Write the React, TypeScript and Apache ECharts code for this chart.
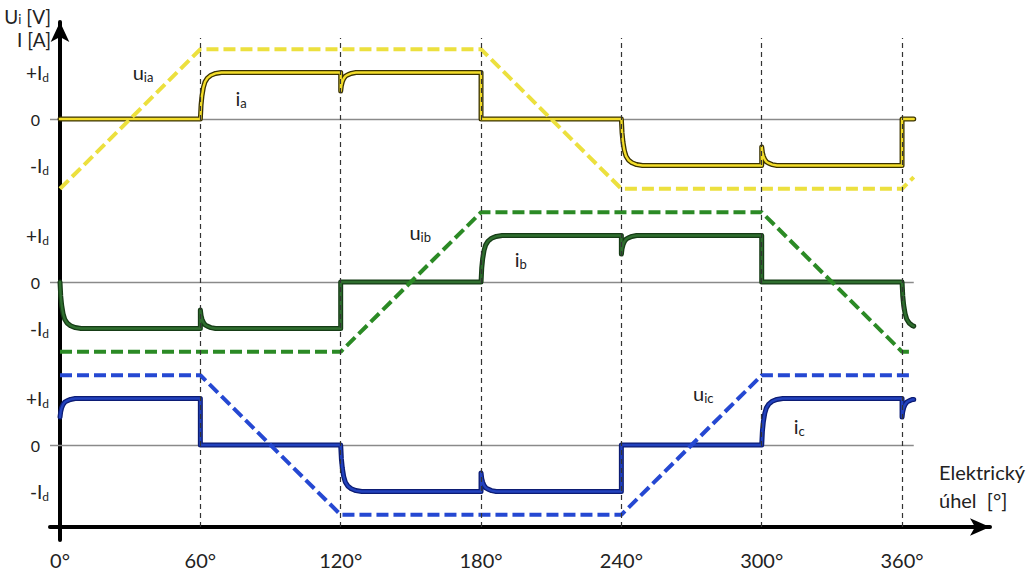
import { useEffect, useRef } from 'react';
import * as echarts from 'echarts';

// ---------- data (degrees, multiples of I_d) ----------
const angleTicks = [0, 60, 120, 180, 240, 300, 360];
const gridAngles = [60, 120, 180, 240, 300, 360];
const levelTicks = [-1, 1];
const zeroTicks = [0];

const uA = [[0, -1.5], [60, 1.5], [180, 1.5], [240, -1.5], [360, -1.5], [365, -1.25]];
const uB = [[0, -1.5], [120, -1.5], [180, 1.5], [300, 1.5], [360, -1.5], [365, -1.5]];
const uC = [[0, 1.5], [60, 1.5], [120, -1.5], [240, -1.5], [300, 1.5], [365, 1.5]];

const iA = [
  [0, 0], [60, 0],
  [60.3, 0.3], [60.7, 0.5], [61.3, 0.68], [62, 0.8], [63, 0.88], [64.5, 0.94], [66.5, 0.98], [69, 1],
  [120, 1], [120, 0.6], [120.3, 0.72], [120.7, 0.8], [121.3, 0.87], [122, 0.92], [123, 0.95], [124.5, 0.98], [126.5, 1],
  [180, 1], [180, 0], [240, 0],
  [240.3, -0.3], [240.7, -0.5], [241.3, -0.68], [242, -0.8], [243, -0.88], [244.5, -0.94], [246.5, -0.98], [249, -1],
  [300, -1], [300, -0.6], [300.3, -0.72], [300.7, -0.8], [301.3, -0.87], [302, -0.92], [303, -0.95], [304.5, -0.98], [306.5, -1],
  [360, -1], [360, 0], [365, 0],
];

const iB = [
  [0, 0], [0.3, -0.3], [0.7, -0.5], [1.3, -0.68], [2, -0.8], [3, -0.88], [4.5, -0.94], [6.5, -0.98], [9, -1],
  [60, -1], [60, -0.6], [60.3, -0.72], [60.7, -0.8], [61.3, -0.87], [62, -0.92], [63, -0.95], [64.5, -0.98], [66.5, -1],
  [120, -1], [120, 0], [180, 0],
  [180.3, 0.3], [180.7, 0.5], [181.3, 0.68], [182, 0.8], [183, 0.88], [184.5, 0.94], [186.5, 0.98], [189, 1],
  [240, 1], [240, 0.6], [240.3, 0.72], [240.7, 0.8], [241.3, 0.87], [242, 0.92], [243, 0.95], [244.5, 0.98], [246.5, 1],
  [300, 1], [300, 0], [360, 0],
  [360.3, -0.3], [360.7, -0.5], [361.3, -0.68], [362, -0.8], [363, -0.88], [364.5, -0.94], [365, -0.95],
];

const iC = [
  [0, 0.6], [0.3, 0.72], [0.7, 0.8], [1.3, 0.87], [2, 0.92], [3, 0.95], [4.5, 0.98], [6.5, 1],
  [60, 1], [60, 0], [120, 0],
  [120.3, -0.3], [120.7, -0.5], [121.3, -0.68], [122, -0.8], [123, -0.88], [124.5, -0.94], [126.5, -0.98], [129, -1],
  [180, -1], [180, -0.6], [180.3, -0.72], [180.7, -0.8], [181.3, -0.87], [182, -0.92], [183, -0.95], [184.5, -0.98], [186.5, -1],
  [240, -1], [240, 0], [300, 0],
  [300.3, 0.3], [300.7, 0.5], [301.3, 0.68], [302, 0.8], [303, 0.88], [304.5, 0.94], [306.5, 0.98], [309, 1],
  [360, 1], [360, 0.6], [360.3, 0.72], [360.7, 0.8], [361.3, 0.87], [362, 0.92], [363, 0.95], [364.5, 0.98], [365, 0.98],
];

// annotation labels: [angle, level]
const labelUA = [35.5, 1.01];
const labelIA = [77.4, 0.45];
const labelUB = [154, 1.08];
const labelIB = [197, 0.5];
const labelUC = [275, 1.12];
const labelIC = [316, 0.4];

// ---------- layout / style ----------
const FONT = 'Lato, "Open Sans", sans-serif';
const X_MIN = -4.28;
const X_MAX = 397.6;
const Y_MIN = -1.763;
const Y_MAX = 1.742;
const PANEL_TOPS = [38, 201, 364];
const PANEL_H = 163;

const panels = [
  { u: uA, i: iA, uLab: labelUA, iLab: labelIA, uTxt: '{m|u}{s|ia}', iTxt: '{m|i}{s|a}', outline: '#3a3200', inner: '#f3dd2a', dash: '#ece03e' },
  { u: uB, i: iB, uLab: labelUB, iLab: labelIB, uTxt: '{m|u}{s|ib}', iTxt: '{m|i}{s|b}', outline: '#163c16', inner: '#2f6e2f', dash: '#2b8a25' },
  { u: uC, i: iC, uLab: labelUC, iLab: labelIC, uTxt: '{m|u}{s|ic}', iTxt: '{m|i}{s|c}', outline: '#0c1c74', inner: '#2242bd', dash: '#2548d2' },
];

const annRich = {
  m: { fontSize: 20, fontFamily: FONT, color: '#222' },
  s: { fontSize: 13, fontFamily: FONT, color: '#222', padding: [10, 0, 0, 0] },
};

export default function App() {
  const ref = useRef<HTMLDivElement>(null);

  useEffect(() => {
    if (!ref.current) return;
    const chart = echarts.init(ref.current, undefined, { renderer: 'svg' });

    const grids: any[] = PANEL_TOPS.map((t) => ({ left: 50, right: 44, top: t, height: PANEL_H }));
    grids.push({ left: 60, right: 44, top: 22, bottom: 32 });

    const xAxes: any[] = panels.map((_, k) => ({
      type: 'value',
      gridIndex: k,
      min: X_MIN,
      max: X_MAX,
      show: k === 2,
      axisLine: {
        show: true,
        onZero: false,
        symbol: ['none', 'arrow'],
        symbolSize: [13, 20],
        lineStyle: { color: '#000', width: 4 },
      },
      axisTick: { show: false },
      splitLine: { show: false },
      axisLabel: {
        show: k === 2,
        customValues: angleTicks,
        formatter: (v: number) => `${v}°`,
        fontSize: 20,
        fontFamily: FONT,
        color: '#222',
        margin: 23,
      },
    }));
    xAxes.push({ type: 'value', gridIndex: 3, min: 0, max: 1, show: false, axisLine: { onZero: false } });

    const yAxes: any[] = panels.map((_, k) => ({
      type: 'value',
      gridIndex: k,
      position: 'left',
      min: Y_MIN,
      max: Y_MAX,
      axisLine: { show: false, onZero: false },
      axisTick: { show: false },
      splitLine: { show: false },
      axisLabel: {
        customValues: levelTicks,
        margin: 1,
        formatter: (v: number) => (v > 0 ? '{p|+I}{s|d}' : '{p|-I}{s|d}'),
        rich: {
          p: { fontSize: 19, fontFamily: FONT, color: '#222' },
          s: { fontSize: 12, fontFamily: FONT, color: '#222', padding: [9, 0, 0, 0] },
        },
      },
    }));
    yAxes.push({
      type: 'value',
      gridIndex: 3,
      min: 0,
      max: 1,
      axisLine: {
        show: true,
        onZero: false,
        symbol: ['none', 'arrow'],
        symbolSize: [14, 20],
        lineStyle: { color: '#000', width: 4 },
      },
      axisTick: { show: false },
      axisLabel: { show: false },
      splitLine: { show: false },
    });
    panels.forEach((_, k) => {
      yAxes.push({
        type: 'value',
        gridIndex: k,
        position: 'left',
        offset: 0,
        min: Y_MIN,
        max: Y_MAX,
        axisLine: { show: false, onZero: false },
        axisTick: { show: false },
        splitLine: { show: false },
        axisLabel: {
          customValues: zeroTicks,
          margin: 10,
          fontSize: 16,
          fontFamily: FONT,
          color: '#222',
        },
      });
    });

    const series: any[] = [];
    panels.forEach((p, k) => {
      series.push({
        type: 'line',
        xAxisIndex: k,
        yAxisIndex: k,
        data: p.i,
        showSymbol: false,
        symbol: 'none',
        z: 3,
        lineStyle: { color: p.outline, width: 5, join: 'round', cap: 'round' },
        markLine: {
          silent: true,
          symbol: ['none', 'none'],
          z: 1,
          label: { show: false },
          lineStyle: { color: '#8a8a8a', width: 1.3, type: 'solid' },
          data: [[{ coord: [X_MIN, 0] }, { coord: [365, 0] }]],
        },
      });
      series.push({
        type: 'line',
        xAxisIndex: k,
        yAxisIndex: k,
        data: p.i,
        showSymbol: false,
        symbol: 'none',
        z: 4,
        lineStyle: { color: p.inner, width: 2.4, join: 'round', cap: 'round' },
        markPoint: {
          symbol: 'circle',
          symbolSize: 1,
          itemStyle: { color: 'rgba(0,0,0,0)' },
          silent: true,
          label: { show: true, position: 'inside', rich: annRich },
          data: [
            { coord: p.uLab, value: 0, label: { formatter: p.uTxt, rich: annRich } },
            { coord: p.iLab, value: 0, label: { formatter: p.iTxt, rich: annRich } },
          ],
        },
      });
      series.push({
        type: 'line',
        xAxisIndex: k,
        yAxisIndex: k,
        data: p.u,
        showSymbol: false,
        symbol: 'none',
        z: 5,
        lineStyle: { color: p.dash, width: 4, type: [12, 5] },
        markLine: {
          silent: true,
          symbol: ['none', 'none'],
          z: 10,
          label: { show: false },
          lineStyle: { color: '#333', width: 1.2, type: [5, 4] },
          data: gridAngles.map((a) => ({ xAxis: a })),
        },
      });
    });

    const txtRich = {
      m: { fontSize: 19, fontFamily: FONT, fill: '#222' },
      s: { fontSize: 13, fontFamily: FONT, fill: '#222', padding: [6, 0, 0, 0] },
    };

    chart.setOption({
      animation: false,
      backgroundColor: '#fff',
      grid: grids,
      xAxis: xAxes,
      yAxis: yAxes,
      series,
      graphic: [
        {
          type: 'text', x: 51, y: 16,
          style: { text: '{m|U}{s|i}{m| [V]}', rich: txtRich, align: 'right', verticalAlign: 'middle', fill: '#222' },
        },
        {
          type: 'text', x: 51, y: 39,
          style: { text: 'I [A]', fontSize: 19, fontFamily: FONT, align: 'right', verticalAlign: 'middle', fill: '#222' },
        },
        {
          type: 'text', x: 939, y: 472,
          style: { text: 'Elektrický', fontSize: 20, fontFamily: FONT, align: 'left', verticalAlign: 'middle', fill: '#222' },
        },
        {
          type: 'text', x: 939, y: 500,
          style: { text: 'úhel  [°]', fontSize: 20, fontFamily: FONT, align: 'left', verticalAlign: 'middle', fill: '#222' },
        },
      ],
    });

    return () => chart.dispose();
  }, []);

  return (
    <div
      ref={ref}
      style={{ position: 'fixed', left: 0, top: 0, width: 1034, height: 572, background: '#fff' }}
    />
  );
}
